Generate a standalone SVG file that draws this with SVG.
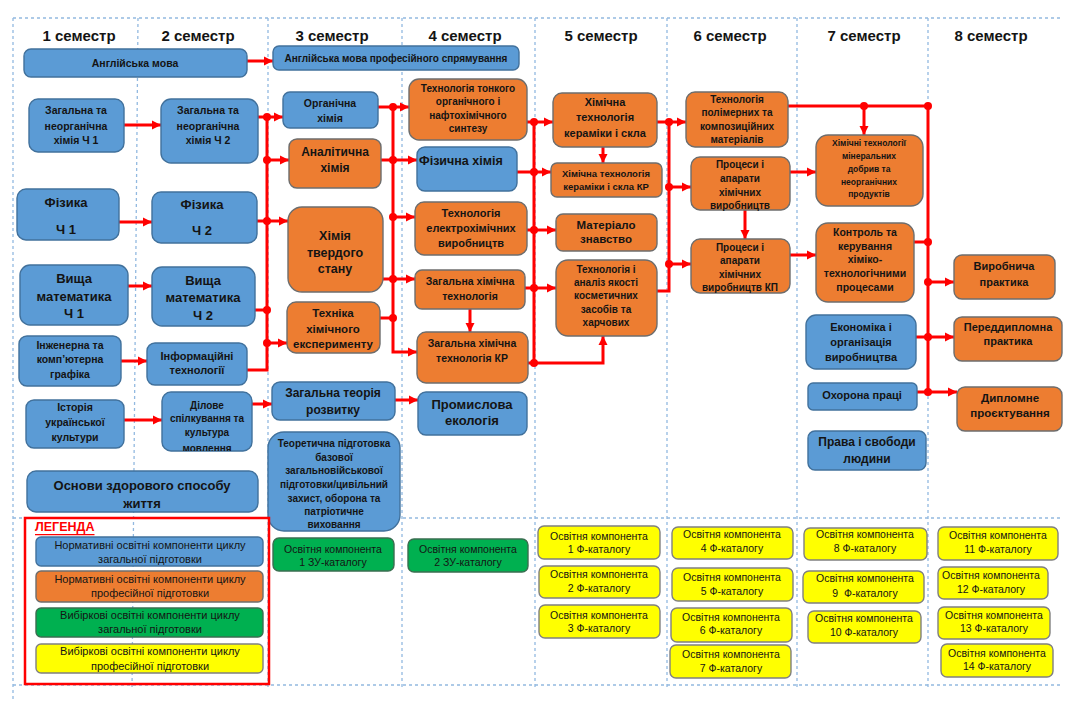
<svg xmlns="http://www.w3.org/2000/svg" width="1082" height="702" viewBox="0 0 1082 702">
<style>
text{font-family:"Liberation Sans",Arial,sans-serif;dominant-baseline:central;text-anchor:middle;fill:#141414;font-weight:bold}
.h{font-size:15px;dominant-baseline:auto}
.r{font-weight:normal}
.st{text-anchor:start}
.b{fill:#5B9BD5;stroke:#41719C;stroke-width:1.4}
.o{fill:#ED7D31;stroke:#6d6d6d;stroke-width:1.4}
.g{fill:#00B050;stroke:#3a6e50;stroke-width:1.4}
.y{fill:#FFFF00;stroke:#808080;stroke-width:1.4}
.grid line{stroke:#92B9E0;stroke-width:1.3;stroke-dasharray:3 3}
.c path{stroke:#FF0000;stroke-width:3;fill:none}
.c path.a{marker-end:url(#ah)}
.c circle{fill:#FF0000}
</style>
<defs>
<marker id="ah" markerUnits="userSpaceOnUse" markerWidth="10" markerHeight="10" refX="9" refY="5" orient="auto"><path d="M0,0.5 L9,5 L0,9.5 z" fill="#FF0000"/></marker>
<clipPath id="clipdil"><rect x="162" y="392" width="90" height="59" rx="9"/></clipPath>
</defs>
<rect width="1082" height="702" fill="#fff"/>
<g class="grid">
<line x1="13" y1="18" x2="1063" y2="18"/>
<line x1="13" y1="518" x2="1063" y2="518"/>
<line x1="13" y1="685" x2="1063" y2="685"/>
<line x1="13" y1="18" x2="13" y2="700"/>
<line x1="138" y1="18" x2="132" y2="690"/>
<line x1="268" y1="18" x2="268" y2="690"/>
<line x1="402" y1="18" x2="402" y2="690"/>
<line x1="535" y1="18" x2="535" y2="690"/>
<line x1="667" y1="18" x2="667" y2="690"/>
<line x1="797" y1="18" x2="797" y2="690"/>
<line x1="928" y1="18" x2="928" y2="690"/>
</g>
<g id="headers">
<text class="h" x="79" y="41">1 семестр</text>
<text class="h" x="198" y="41">2 семестр</text>
<text class="h" x="332" y="41">3 семестр</text>
<text class="h" x="465" y="41">4 семестр</text>
<text class="h" x="601" y="41">5 семестр</text>
<text class="h" x="730" y="41">6 семестр</text>
<text class="h" x="864" y="41">7 семестр</text>
<text class="h" x="991" y="41">8 семестр</text>
</g>
<g class="c" id="connectors">
<path class="a" d="M247,61 H273"/>
<path class="a" d="M124,125 H161"/>
<path class="a" d="M119,222 H152"/>
<path class="a" d="M128,286 H152"/>
<path class="a" d="M121,361 H147"/>
<path class="a" d="M124,420 H162"/>
<path class="a" d="M252,404 H272"/>
<path class="a" d="M395,400 H418"/>
<path class="a" d="M258,117 H283"/>
<path d="M267,117 V370 H247"/>
<path class="a" d="M267,160 H289"/>
<path class="a" d="M257,221 H288"/>
<path d="M255,310 H267"/>
<path class="a" d="M267,343 H287"/>
<path class="a" d="M378,107 H409"/>
<path class="a" d="M393,107 V352 H417"/>
<path class="a" d="M381,160 H417"/>
<path class="a" d="M393,217 H415"/>
<path class="a" d="M383,279 H415"/>
<path d="M380,318 H393"/>
<path class="a" d="M470,309 V332"/>
<path class="a" d="M527,122 H553"/>
<path class="a" d="M534,122 V363 H603 V336"/>
<path class="a" d="M517,172 H551"/>
<path class="a" d="M527,230 H556"/>
<path class="a" d="M525,288 H556"/>
<path d="M528,363 H534"/>
<path class="a" d="M603,147 V163"/>
<path class="a" d="M657,122 H686"/>
<path d="M669,122 V291 H657"/>
<path class="a" d="M669,187 H691"/>
<path class="a" d="M669,264 H691"/>
<path class="a" d="M745,210 V239"/>
<path class="a" d="M790,172 H816"/>
<path class="a" d="M790,255 H816"/>
<path d="M788,106 H928 V392"/>
<path class="a" d="M864,106 V135"/>
<path d="M914,242 H928"/>
<path class="a" d="M928,282 H954"/>
<path class="a" d="M916,337 H954"/>
<path class="a" d="M917,392 H957"/>
<circle cx="267" cy="117" r="4"/><circle cx="267" cy="160" r="4"/><circle cx="267" cy="221" r="4"/><circle cx="267" cy="310" r="4"/><circle cx="267" cy="343" r="4"/>
<circle cx="393" cy="107" r="4"/><circle cx="393" cy="160" r="4"/><circle cx="393" cy="217" r="4"/><circle cx="393" cy="279" r="4"/><circle cx="393" cy="318" r="4"/>
<circle cx="534" cy="122" r="4"/><circle cx="534" cy="172" r="4"/><circle cx="534" cy="230" r="4"/><circle cx="534" cy="288" r="4"/><circle cx="534" cy="363" r="4"/>
<circle cx="669" cy="122" r="4"/><circle cx="669" cy="187" r="4"/><circle cx="669" cy="264" r="4"/>
<circle cx="864" cy="106" r="4"/><circle cx="928" cy="106" r="4"/><circle cx="928" cy="242" r="4"/><circle cx="928" cy="282" r="4"/><circle cx="928" cy="337" r="4"/><circle cx="928" cy="392" r="4"/>
</g>
<g id="n-eng"><rect class="b" x="24" y="49" width="223" height="28" rx="7"/><text x="135" y="63" font-size="10.5">Англійська мова</text></g>
<g id="n-engp"><rect class="b" x="273" y="46" width="246" height="24" rx="6"/><text x="396" y="58" font-size="10">Англійська мова професійного спрямування</text></g>
<g id="n-znh1"><rect class="b" x="29" y="99" width="95" height="53" rx="9"/><text font-size="10.5"><tspan x="76" y="110">Загальна та</tspan><tspan x="76" y="126">неорганічна</tspan><tspan x="76" y="140">хімія Ч 1</tspan></text></g>
<g id="n-znh2"><rect class="b" x="161" y="99" width="97" height="64" rx="10"/><text font-size="10.5"><tspan x="208" y="110">Загальна та</tspan><tspan x="208" y="126">неорганічна</tspan><tspan x="208" y="140">хімія Ч 2</tspan></text></g>
<g id="n-fiz1"><rect class="b" x="17" y="189" width="102" height="51" rx="9"/><text font-size="13"><tspan x="66" y="202">Фізика</tspan><tspan x="66" y="229">Ч 1</tspan></text></g>
<g id="n-fiz2"><rect class="b" x="152" y="192" width="105" height="51" rx="9"/><text font-size="13"><tspan x="202" y="204">Фізика</tspan><tspan x="202" y="230">Ч 2</tspan></text></g>
<g id="n-vm1"><rect class="b" x="20" y="265" width="108" height="60" rx="10"/><text font-size="13"><tspan x="74" y="278">Вища</tspan><tspan x="74" y="296">математика</tspan><tspan x="74" y="313">Ч 1</tspan></text></g>
<g id="n-vm2"><rect class="b" x="152" y="267" width="103" height="59" rx="10"/><text font-size="13"><tspan x="203" y="280">Вища</tspan><tspan x="203" y="297">математика</tspan><tspan x="203" y="315">Ч 2</tspan></text></g>
<g id="n-graf"><rect class="b" x="19" y="336" width="102" height="50" rx="8"/><text font-size="10.5"><tspan x="70" y="345">Інженерна та</tspan><tspan x="70" y="359">комп’ютерна</tspan><tspan x="70" y="374">графіка</tspan></text></g>
<g id="n-inf"><rect class="b" x="147" y="343" width="100" height="42" rx="8"/><text font-size="11"><tspan x="197" y="356">Інформаційні</tspan><tspan x="197" y="370">технології</tspan></text></g>
<g id="n-ist"><rect class="b" x="26" y="400" width="98" height="48" rx="8"/><text font-size="10.5"><tspan x="75" y="407">Історія</tspan><tspan x="75" y="422">української</tspan><tspan x="75" y="437">культури</tspan></text></g>
<g id="n-dil"><rect class="b" x="162" y="392" width="90" height="59" rx="9"/><text font-size="10" clip-path="url(#clipdil)"><tspan x="207" y="405">Ділове</tspan><tspan x="207" y="418">спілкування та</tspan><tspan x="207" y="432">культура</tspan><tspan x="207" y="448">мовлення</tspan></text></g>
<g id="n-ozs"><rect class="b" x="27" y="471" width="231" height="41" rx="9"/><text font-size="13"><tspan x="142" y="485">Основи здорового способу</tspan><tspan x="142" y="503">життя</tspan></text></g>
<g id="n-org"><rect class="b" x="283" y="92" width="95" height="36" rx="7"/><text font-size="10.5"><tspan x="330" y="103">Органічна</tspan><tspan x="330" y="118">хімія</tspan></text></g>
<g id="n-anal"><rect class="o" x="289" y="139" width="92" height="49" rx="8"/><text font-size="12"><tspan x="335" y="152">Аналітична</tspan><tspan x="335" y="168">хімія</tspan></text></g>
<g id="n-tverd"><rect class="o" x="288" y="207" width="95" height="85" rx="14"/><text font-size="12.5"><tspan x="335" y="236">Хімія</tspan><tspan x="335" y="253">твердого</tspan><tspan x="335" y="269">стану</tspan></text></g>
<g id="n-tekhn"><rect class="o" x="287" y="302" width="93" height="51" rx="9"/><text font-size="11.5"><tspan x="333" y="313">Техніка</tspan><tspan x="333" y="329">хімічного</tspan><tspan x="333" y="344">експерименту</tspan></text></g>
<g id="n-zteor"><rect class="b" x="272" y="382" width="123" height="38" rx="8"/><text font-size="12"><tspan x="333" y="393">Загальна теорія</tspan><tspan x="333" y="410">розвитку</tspan></text></g>
<g id="n-teor"><rect class="b" x="268" y="432" width="132" height="99" rx="16"/><text font-size="10"><tspan x="334" y="443">Теоретична підготовка</tspan><tspan x="334" y="457">базової</tspan><tspan x="334" y="470">загальновійськової</tspan><tspan x="334" y="484">підготовки/цивільний</tspan><tspan x="334" y="498">захист, оборона та</tspan><tspan x="334" y="511">патріотичне</tspan><tspan x="334" y="524">виховання</tspan></text></g>
<g id="n-zu1"><rect class="g" x="273" y="538" width="121" height="33" rx="6"/><text class="r" font-size="10.5"><tspan x="333" y="549">Освітня компонента</tspan><tspan x="333" y="562">1 ЗУ-каталогу</tspan></text></g>
<g id="n-tonk"><rect class="o" x="409" y="79" width="118" height="61" rx="10"/><text font-size="10"><tspan x="468" y="88">Технологія тонкого</tspan><tspan x="468" y="101">органічного і</tspan><tspan x="468" y="115">нафтохімічного</tspan><tspan x="468" y="128">синтезу</tspan></text></g>
<g id="n-fizch"><rect class="b" x="417" y="147" width="100" height="44" rx="8"/><text class="st" font-size="12.5" x="419" y="161">Фізична хімія</text></g>
<g id="n-elek"><rect class="o" x="415" y="202" width="112" height="53" rx="9"/><text font-size="11"><tspan x="471" y="213">Технологія</tspan><tspan x="471" y="228">електрохімічних</tspan><tspan x="471" y="243">виробництв</tspan></text></g>
<g id="n-zkht"><rect class="o" x="415" y="270" width="110" height="39" rx="7"/><text font-size="10.5"><tspan x="470" y="281">Загальна хімічна</tspan><tspan x="470" y="296">технологія</tspan></text></g>
<g id="n-zkhtkr"><rect class="o" x="417" y="332" width="111" height="51" rx="9"/><text font-size="10.5"><tspan x="472" y="343">Загальна хімічна</tspan><tspan x="472" y="358">технологія КР</tspan></text></g>
<g id="n-prom"><rect class="b" x="418" y="392" width="109" height="43" rx="8"/><text font-size="13"><tspan x="472" y="404">Промислова</tspan><tspan x="472" y="420">екологія</tspan></text></g>
<g id="n-zu2"><rect class="g" x="408" y="539" width="120" height="33" rx="6"/><text class="r" font-size="10.5"><tspan x="468" y="549">Освітня компонента</tspan><tspan x="468" y="562">2 ЗУ-каталогу</tspan></text></g>
<g id="n-ker"><rect class="o" x="553" y="93" width="104" height="54" rx="9"/><text font-size="11"><tspan x="605" y="102">Хімічна</tspan><tspan x="605" y="117">технологія</tspan><tspan x="605" y="133">кераміки і скла</tspan></text></g>
<g id="n-kerkr"><rect class="o" x="551" y="163" width="111" height="34" rx="6"/><text font-size="9.5"><tspan x="606" y="173">Хімічна технологія</tspan><tspan x="606" y="186">кераміки і скла КР</tspan></text></g>
<g id="n-mat"><rect class="o" x="556" y="214" width="101" height="37" rx="7"/><text font-size="11.5"><tspan x="606" y="225">Матеріало</tspan><tspan x="606" y="239">знавство</tspan></text></g>
<g id="n-kosm"><rect class="o" x="556" y="260" width="101" height="76" rx="12"/><text font-size="10"><tspan x="606" y="269">Технологія і</tspan><tspan x="606" y="282">аналіз якості</tspan><tspan x="606" y="295">косметичних</tspan><tspan x="606" y="309">засобів та</tspan><tspan x="606" y="322">харчових</tspan></text></g>
<g id="n-polim"><rect class="o" x="686" y="92" width="102" height="55" rx="9"/><text font-size="10"><tspan x="737" y="99">Технологія</tspan><tspan x="737" y="112">полімерних та</tspan><tspan x="737" y="126">композиційних</tspan><tspan x="737" y="139">матеріалів</tspan></text></g>
<g id="n-proc"><rect class="o" x="691" y="157" width="99" height="53" rx="9"/><text font-size="10"><tspan x="740" y="164">Процеси і</tspan><tspan x="740" y="178">апарати</tspan><tspan x="740" y="192">хімічних</tspan><tspan x="740" y="205">виробництв</tspan></text></g>
<g id="n-prockp"><rect class="o" x="691" y="239" width="99" height="54" rx="9"/><text font-size="10"><tspan x="740" y="247">Процеси і</tspan><tspan x="740" y="260">апарати</tspan><tspan x="740" y="274">хімічних</tspan><tspan x="740" y="287">виробництв КП</tspan></text></g>
<g id="n-min"><rect class="o" x="816" y="135" width="107" height="71" rx="12"/><text font-size="8.5"><tspan x="869" y="143">Хімічні технології</tspan><tspan x="869" y="156">мінеральних</tspan><tspan x="869" y="169">добрив та</tspan><tspan x="869" y="182">неорганічних</tspan><tspan x="869" y="194">продуктів</tspan></text></g>
<g id="n-kontr"><rect class="o" x="816" y="223" width="98" height="79" rx="12"/><text font-size="10.5"><tspan x="865" y="232">Контроль та</tspan><tspan x="865" y="246">керування</tspan><tspan x="865" y="259">хіміко-</tspan><tspan x="865" y="273">технологічними</tspan><tspan x="865" y="287">процесами</tspan></text></g>
<g id="n-econ"><rect class="b" x="806" y="315" width="110" height="54" rx="10"/><text font-size="11"><tspan x="861" y="327">Економіка і</tspan><tspan x="861" y="342">організація</tspan><tspan x="861" y="357">виробництва</tspan></text></g>
<g id="n-okh"><rect class="b" x="808" y="383" width="109" height="27" rx="5"/><text font-size="11" x="862" y="395">Охорона праці</text></g>
<g id="n-prava"><rect class="b" x="808" y="431" width="118" height="39" rx="7"/><text font-size="12"><tspan x="867" y="442">Права і свободи</tspan><tspan x="867" y="459">людини</tspan></text></g>
<g id="n-virob"><rect class="o" x="954" y="255" width="101" height="44" rx="8"/><text font-size="11"><tspan x="1004" y="266">Виробнича</tspan><tspan x="1004" y="282">практика</tspan></text></g>
<g id="n-pered"><rect class="o" x="954" y="317" width="108" height="44" rx="8"/><text font-size="11"><tspan x="1008" y="327">Переддипломна</tspan><tspan x="1008" y="341">практика</tspan></text></g>
<g id="n-dypl"><rect class="o" x="957" y="387" width="105" height="44" rx="8"/><text font-size="11.5"><tspan x="1010" y="398">Дипломне</tspan><tspan x="1010" y="413">проєктування</tspan></text></g>
<g id="n-f1"><rect class="y" x="538" y="526" width="122" height="33" rx="6"/><text class="r" font-size="10.5"><tspan x="599" y="536">Освітня компонента</tspan><tspan x="599" y="549">1 Ф-каталогу</tspan></text></g>
<g id="n-f2"><rect class="y" x="539" y="566" width="121" height="32" rx="6"/><text class="r" font-size="10.5"><tspan x="599" y="574">Освітня компонента</tspan><tspan x="599" y="588">2 Ф-каталогу</tspan></text></g>
<g id="n-f3"><rect class="y" x="539" y="605" width="121" height="33" rx="6"/><text class="r" font-size="10.5"><tspan x="599" y="615">Освітня компонента</tspan><tspan x="599" y="628">3 Ф-каталогу</tspan></text></g>
<g id="n-f4"><rect class="y" x="672" y="527" width="121" height="32" rx="6"/><text class="r" font-size="10.5"><tspan x="732" y="534">Освітня компонента</tspan><tspan x="732" y="548">4 Ф-каталогу</tspan></text></g>
<g id="n-f5"><rect class="y" x="672" y="568" width="121" height="33" rx="6"/><text class="r" font-size="10.5"><tspan x="732" y="577">Освітня компонента</tspan><tspan x="732" y="591">5 Ф-каталогу</tspan></text></g>
<g id="n-f6"><rect class="y" x="671" y="608" width="121" height="34" rx="6"/><text class="r" font-size="10.5"><tspan x="731" y="617">Освітня компонента</tspan><tspan x="731" y="630">6 Ф-каталогу</tspan></text></g>
<g id="n-f7"><rect class="y" x="670" y="645" width="121" height="33" rx="6"/><text class="r" font-size="10.5"><tspan x="731" y="654">Освітня компонента</tspan><tspan x="731" y="668">7 Ф-каталогу</tspan></text></g>
<g id="n-f8"><rect class="y" x="804" y="528" width="123" height="32" rx="6"/><text class="r" font-size="10.5"><tspan x="865" y="534">Освітня компонента</tspan><tspan x="865" y="548">8 Ф-каталогу</tspan></text></g>
<g id="n-f9"><rect class="y" x="803" y="571" width="121" height="32" rx="6"/><text class="r" font-size="10.5" xml:space="preserve"><tspan x="865" y="578">Освітня компонента</tspan><tspan x="865" y="593">9  Ф-каталогу</tspan></text></g>
<g id="n-f10"><rect class="y" x="808" y="611" width="113" height="32" rx="6"/><text class="r" font-size="10.5"><tspan x="864" y="618">Освітня компонента</tspan><tspan x="864" y="632">10 Ф-каталогу</tspan></text></g>
<g id="n-f11"><rect class="y" x="938" y="527" width="120" height="33" rx="6"/><text class="r" font-size="10.5"><tspan x="998" y="535">Освітня компонента</tspan><tspan x="998" y="549">11 Ф-каталогу</tspan></text></g>
<g id="n-f12"><rect class="y" x="938" y="567" width="110" height="32" rx="6"/><text class="r" font-size="10.5"><tspan x="991" y="575">Освітня компонента</tspan><tspan x="991" y="589">12 Ф-каталогу</tspan></text></g>
<g id="n-f13"><rect class="y" x="938" y="607" width="112" height="32" rx="6"/><text class="r" font-size="10.5"><tspan x="994" y="615">Освітня компонента</tspan><tspan x="994" y="628">13 Ф-каталогу</tspan></text></g>
<g id="n-f14"><rect class="y" x="941" y="644" width="112" height="33" rx="6"/><text class="r" font-size="10.5"><tspan x="997" y="653">Освітня компонента</tspan><tspan x="997" y="666">14 Ф-каталогу</tspan></text></g>
<g id="legend">
<rect x="25" y="518" width="244" height="166" fill="none" stroke="#FF0000" stroke-width="2.5"/>
<text class="st" x="35" y="527" font-size="12.5" text-decoration="underline" style="fill:#FF0000">ЛЕГЕНДА</text>
<rect class="b" x="36" y="537" width="227" height="29" rx="5"/><text class="r" font-size="11"><tspan x="150" y="545">Нормативні освітні компоненти циклу</tspan><tspan x="150" y="559">загальної підготовки</tspan></text>
<rect class="o" x="36" y="571" width="227" height="31" rx="5"/><text class="r" font-size="11"><tspan x="150" y="579">Нормативні освітні компоненти циклу</tspan><tspan x="150" y="593">професійної підготовки</tspan></text>
<rect class="g" x="36" y="608" width="227" height="29" rx="5"/><text class="r" font-size="11"><tspan x="150" y="615">Вибіркові освітні компоненти циклу</tspan><tspan x="150" y="629">загальної підготовки</tspan></text>
<rect class="y" x="36" y="644" width="227" height="29" rx="5"/><text class="r" font-size="11"><tspan x="150" y="651">Вибіркові освітні компоненти циклу</tspan><tspan x="150" y="666">професійної підготовки</tspan></text>
</g>
</svg>
